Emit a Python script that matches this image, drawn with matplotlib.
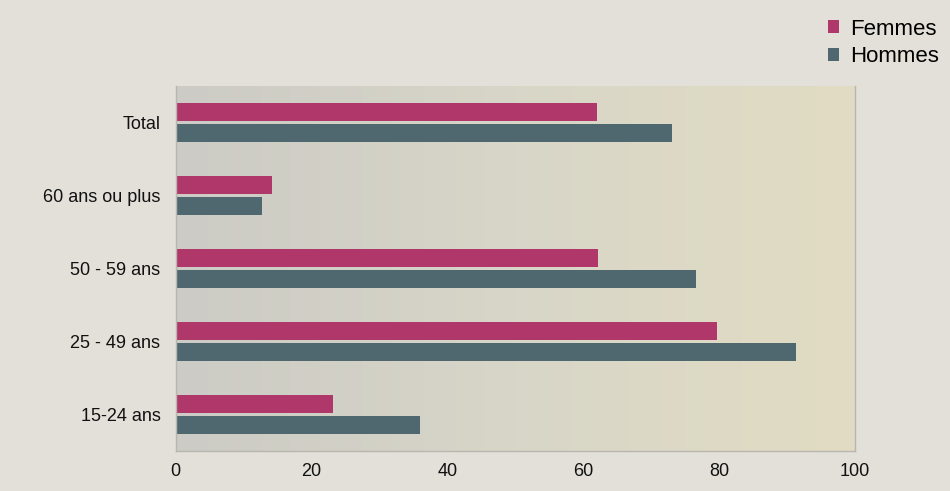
import numpy as np
import matplotlib.pyplot as plt
from matplotlib.colors import LinearSegmentedColormap

plt.rcParams["font.family"] = ["Liberation Sans Narrow", "Liberation Sans", "DejaVu Sans"]

categories = ["15-24 ans", "25 - 49 ans", "50 - 59 ans", "60 ans ou plus", "Total"]
femmes = [23.1, 79.7, 62.2, 14.1, 62.0]
hommes = [35.9, 91.3, 76.6, 12.7, 73.0]
xticks = [0, 20, 40, 60, 80, 100]

col_f = "#b0376a"
col_h = "#4f6870"
bg = "#e2e0d8"

fig = plt.figure(figsize=(9.5, 4.91), dpi=100, facecolor=bg)
ax = fig.add_axes([0.185, 0.0815, 0.715, 0.7435])

# gradient background of the plot area
grad = LinearSegmentedColormap.from_list("g", ["#cccbc5", "#d8d6c8", "#e1dcc2"])
ax.imshow(np.linspace(0, 1, 256).reshape(1, -1), cmap=grad, aspect="auto",
          extent=[0, 100, -0.5, 4.5], zorder=0)

y = np.arange(len(categories))
h = 0.255
ax.barh(y + 0.145, femmes, height=h, color=col_f, label="Femmes", zorder=2)
ax.barh(y - 0.145, hommes, height=h, color=col_h, label="Hommes", zorder=2)

ax.set_xlim(0, 100)
ax.set_ylim(-0.5, 4.5)
ax.set_xticks(xticks)
ax.set_yticks(y)
ax.set_yticklabels(categories)
ax.tick_params(axis="both", length=0, labelsize=13, colors="#111111")
ax.tick_params(axis="x", pad=9)
ax.tick_params(axis="y", pad=11)

for s in ["left", "bottom", "right", "top"]:
    ax.spines[s].set_color("#b8b6ae")
    ax.spines[s].set_linewidth(1)
ax.spines["top"].set_visible(False)

ax.legend(loc="upper right", bbox_to_anchor=(0.998, 0.98), bbox_transform=fig.transFigure,
          frameon=False, fontsize=16, handlelength=0.5, handleheight=0.5,
          handletextpad=0.5, labelspacing=0.3, borderaxespad=0)

fig.savefig("out.png", dpi=100, facecolor=bg)
